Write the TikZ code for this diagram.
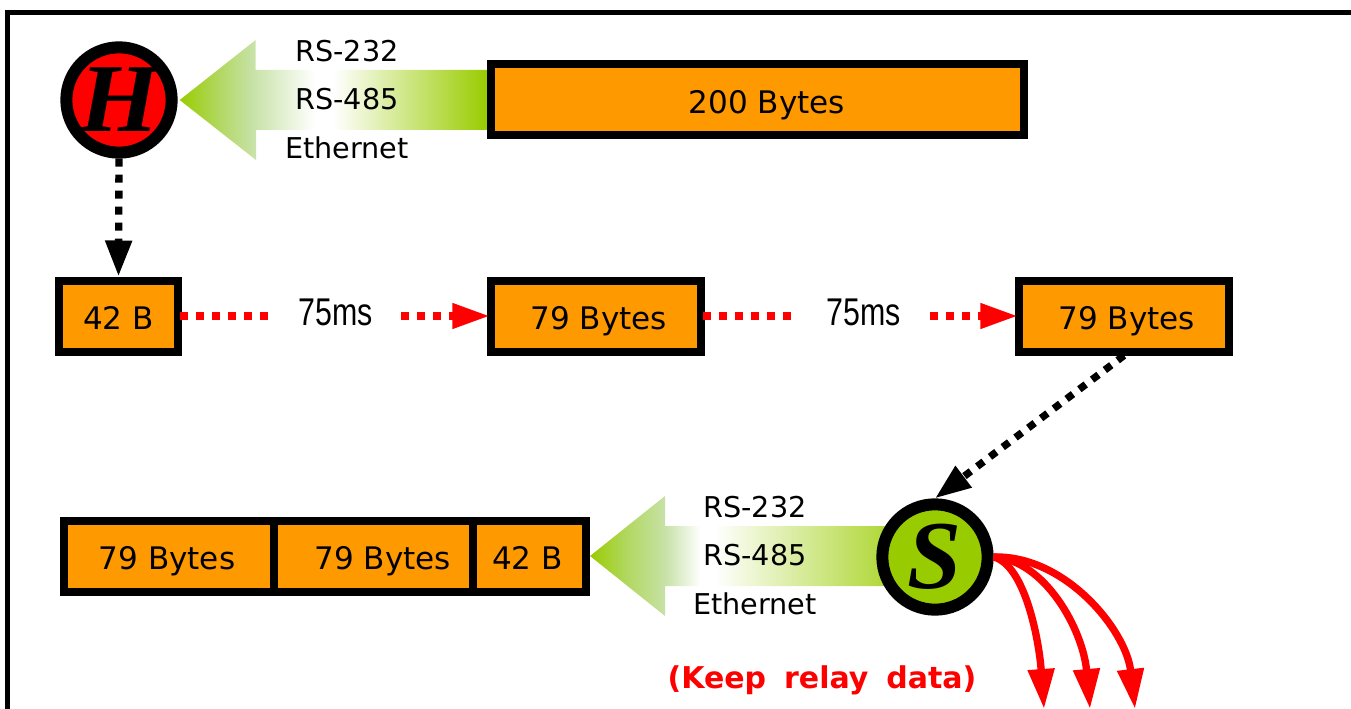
\documentclass[tikz,border=0pt]{standalone}
\usepackage{fontspec}
\usepackage{xcolor}
\setmainfont{DejaVu Sans}
\newfontfamily\letterfont{Liberation Serif}
\newfontfamily\timefont{Liberation Sans}
\usetikzlibrary{
    arrows.meta,
    backgrounds
}
\definecolor{boxorange}{RGB}{255,153,0}
\definecolor{linkgreen}{RGB}{153,204,0}
\definecolor{linkmid}{RGB}{176,215,92}
\definecolor{linkpale}{RGB}{200,226,168}
\pgfdeclarehorizontalshading{linktop}{100bp}{color(0bp)=(linkgreen); color(25bp)=(linkgreen); color(31bp)=(linkmid); color(37bp)=(linkpale); color(47bp)=(white); color(50bp)=(white); color(75bp)=(linkgreen); color(100bp)=(linkgreen)}
\pgfdeclarehorizontalshading{linkbot}{100bp}{color(0bp)=(linkgreen); color(25bp)=(linkgreen); color(30bp)=(linkmid); color(36bp)=(linkpale); color(41bp)=(white); color(43bp)=(white); color(75bp)=(linkgreen); color(100bp)=(linkgreen)}
\tikzset{
    pkt/.style={draw, line width=6pt, fill=boxorange, inner sep=0pt, minimum height=53.25pt, text height=20.5pt, text depth=0pt, font=\fontsize{23.3}{23.3}\selectfont},
    station/.style={circle, draw, line width=9pt, inner sep=0pt, minimum size=79pt, font=\fontsize{73}{73}\letterfont\bfseries\itshape},
    medium/.style={font=\fontsize{21.5}{21.5}\selectfont},
    delay/.style={minimum width=101pt, inner sep=0pt, font=\fontsize{29}{29}\timefont},
    toblack/.style={line width=5.5pt, dash pattern=on 6pt off 6pt, -{Triangle[length=27pt,width=19pt]}},
    tored/.style={line width=5.5pt, red, dash pattern=on 6pt off 6pt, shorten <=-1.5pt},
    redhead/.style={-{Triangle[length=28pt,width=18pt]}, shorten >=-2pt},
    relay/.style={line width=5.5pt, red, -{Triangle[length=30pt,width=19pt]}}
}

\begin{document}
\begin{tikzpicture}[x=0.75pt, y=-0.75pt]
    \useasboundingbox (0, 0) rectangle (1351, 709);
    \draw[line width=3.75pt] (7.5, 720) |- (1360, 12.5);

    \node[station, fill=red] (host) at (119, 100) {\scalebox{1.05}[1]{H}};
    \node[station, fill=linkgreen] (slave) at (935, 557) {S};

    \node[pkt, minimum width=399.75pt] (b200) at (757.5, 99.5) {\hspace*{14pt}200 Bytes};
    \node[pkt, minimum width=89.25pt] (b42) at (118.5, 316) {42 B};
    \node[pkt, minimum width=157.5pt] (b79a) at (596, 316) {\hspace*{4pt}79 Bytes};
    \node[pkt, minimum width=157.5pt] (b79b) at (1124, 316) {\hspace*{4pt}79 Bytes};

    \node[pkt, minimum width=157.5pt] (r79a) at (169, 556) {79 Bytes\hspace*{3pt}};
    \node[pkt, minimum width=149.25pt] (r79b) at (373.5, 556) {\hspace*{14pt}79 Bytes};
    \node[pkt, minimum width=84.75pt] (r42) at (529.5, 556) {42 B\hspace*{3pt}};

    \node[delay] (t1) at (335.5, 312) {\scalebox{.785}[1]{75ms}};
    \node[delay] (t2) at (864, 312) {\scalebox{.785}[1]{75ms}};

    \begin{scope}[on background layer]
        \shade[shading=linktop] ([xshift=1.5pt]host.east) -- ++(76, -60) -- ++(0, 30) -- (b200.west |- 0, 70)
            -- (b200.west |- 0, 130) -- (256, 130) -- ++(0, 30) -- cycle;
        \shade[shading=linkbot] (r42.east) -- ++(75, -60) -- ++(0, 30) -- (slave.center |- 0, 526)
            -- (slave.center |- 0, 586) -- (665, 586) -- ++(0, 30) -- cycle;
    \end{scope}

    \node[medium] (m1) at (347, 51) {RS-232};
    \node[medium] (m2) at (347, 99) {RS-485};
    \node[medium] (m3) at (347, 148) {Ethernet};
    \node[medium] (m4) at (755, 507) {RS-232};
    \node[medium] (m5) at (755, 555) {RS-485};
    \node[medium] (m6) at (755, 604) {Ethernet};

    \node[red, font=\fontsize{22.5}{22.5}\selectfont\bfseries] (keep) at (822, 680) {(Keep\hspace{.25em} relay\hspace{.25em} data)};

    \coordinate (o1) at (1044, 709);
    \coordinate (o2) at (1090, 709);
    \coordinate (o3) at (1135, 709);

    \draw[toblack] (host.south) -- (b42.north);
    \draw[toblack] (b79b.south) -- (slave.north);
    \draw[tored] (b42.east |- 0, 316) -- (t1.west |- 0, 316);
    \draw[tored, redhead] (t1.east |- 0, 316) -- (b79a.west);
    \draw[tored] (b79a.east) -- (t2.west |- 0, 316);
    \draw[tored, redhead] (t2.east |- 0, 316) -- (b79b.west);
    \draw[relay] (slave.east) .. controls (1025, 565) and (1039, 640) .. (o1);
    \draw[relay] (slave.east) .. controls (1045, 560) and (1083, 630) .. (o2);
    \draw[relay] (slave.east) .. controls (1065, 555) and (1126, 630) .. (o3);
\end{tikzpicture}
\end{document}
